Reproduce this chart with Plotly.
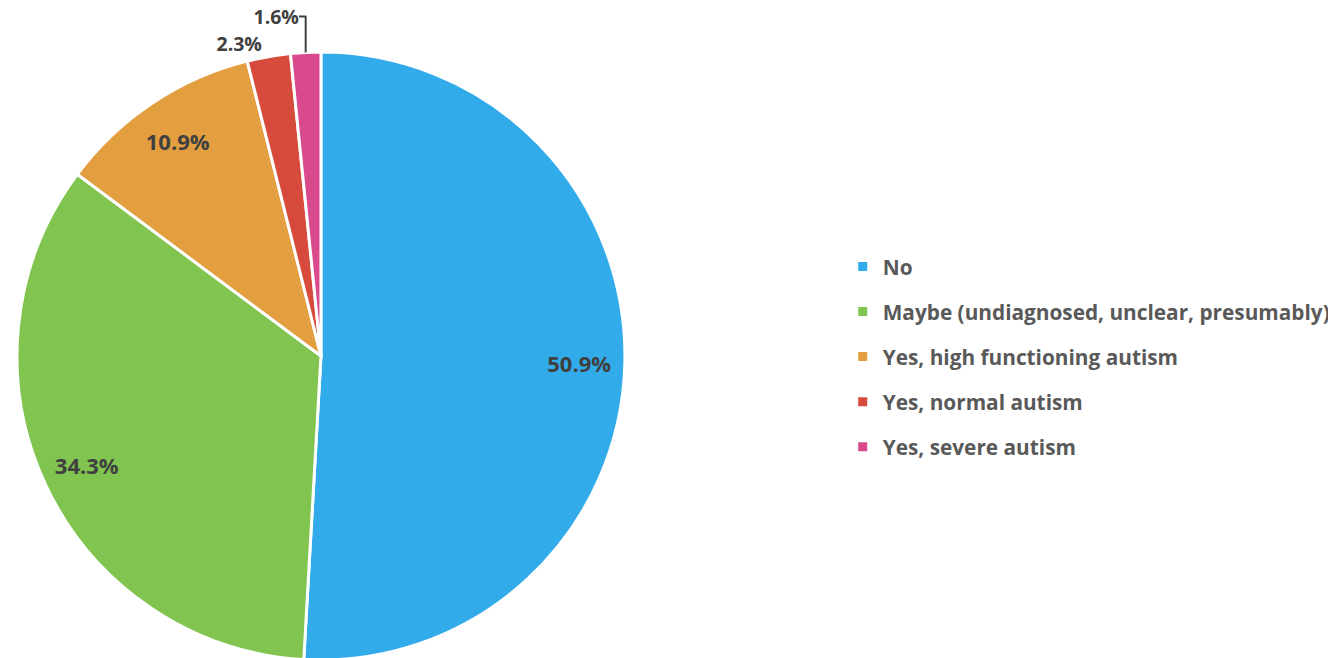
import plotly.graph_objects as go

labels = ["No", "Maybe (undiagnosed, unclear, presumably)", "Yes, high functioning autism",
          "Yes, normal autism", "Yes, severe autism"]
values = [50.9, 34.3, 10.9, 2.3, 1.6]
colors = ["#31ABEA", "#82C450", "#E29E3F", "#D64B3B", "#D94A8C"]
text_pos = ["inside", "inside", "inside", "outside", "outside"]

pie_domain = dict(x=[0.0067, 0.4618], y=[0.0091, 0.933])

fig = go.Figure()

# coloured slices
fig.add_trace(go.Pie(
    labels=labels,
    values=values,
    sort=False,
    direction="clockwise",
    rotation=0,
    marker=dict(colors=colors, line=dict(color="white", width=3)),
    textinfo="none",
    domain=pie_domain,
    showlegend=False,
    hoverinfo="label+percent",
))

# transparent ring on top, only for the labels (puts them near the rim like Excel)
fig.add_trace(go.Pie(
    labels=labels,
    values=values,
    sort=False,
    direction="clockwise",
    rotation=0,
    hole=0.7,
    marker=dict(colors=["rgba(0,0,0,0)"] * len(values), line=dict(width=0)),
    texttemplate="%{value:.1f}%",
    textposition=text_pos,
    insidetextorientation="horizontal",
    textfont=dict(family="Open Sans", size=22, color="#404040", weight="bold"),
    outsidetextfont=dict(family="Open Sans", size=19.5, color="#404040", weight="bold"),
    domain=pie_domain,
    showlegend=False,
    hoverinfo="skip",
))

# legend entries
for lab, col in zip(labels, colors):
    fig.add_trace(go.Scatter(
        x=[None], y=[None],
        mode="markers",
        marker=dict(symbol="square", size=9, color=col),
        name=lab,
        legendgroup=lab,
    ))

fig.update_layout(
    width=1336,
    height=658,
    margin=dict(l=0, r=0, t=0, b=0, autoexpand=False),
    paper_bgcolor="white",
    plot_bgcolor="white",
    xaxis=dict(visible=False),
    yaxis=dict(visible=False),
    showlegend=True,
    legend=dict(
        x=0.6248,
        y=0.4696,
        xanchor="left",
        yanchor="middle",
        tracegroupgap=15,
        itemwidth=30,
        font=dict(family="Open Sans", size=20.8, color="#595959", weight="bold"),
    ),
)

fig.write_html("out.html")
